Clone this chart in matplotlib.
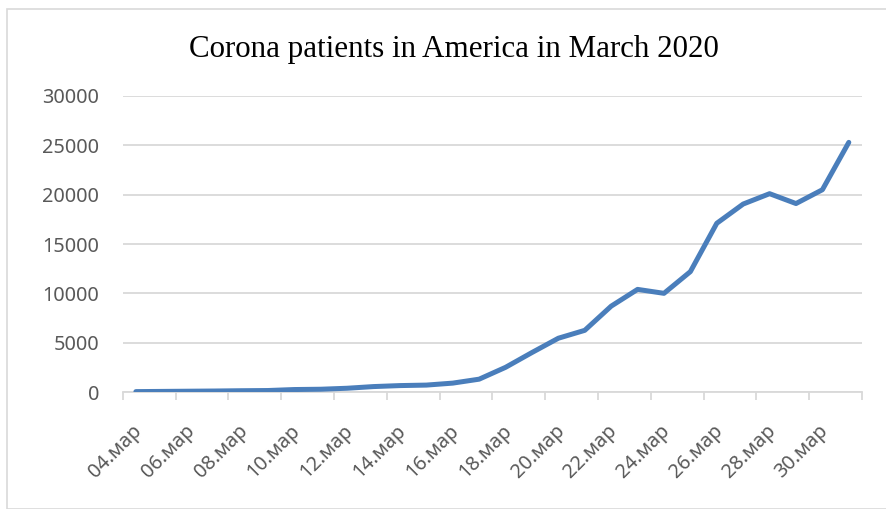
import matplotlib
matplotlib.use("Agg")
import matplotlib.pyplot as plt
from matplotlib.patches import Rectangle
from matplotlib.transforms import offset_copy

days = ["04.мар", "05.мар", "06.мар", "07.мар", "08.мар", "09.мар", "10.мар",
        "11.мар", "12.мар", "13.мар", "14.мар", "15.мар", "16.мар", "17.мар",
        "18.мар", "19.мар", "20.мар", "21.мар", "22.мар", "23.мар", "24.мар",
        "25.мар", "26.мар", "27.мар", "28.мар", "29.мар", "30.мар", "31.мар"]
patients = [40, 60, 80, 100, 130, 150, 250, 280, 380, 550, 650, 700, 900, 1300,
            2500, 4000, 5450, 6250, 8700, 10400, 10000, 12200, 17100, 19050,
            20100, 19100, 20500, 25300]
y_ticks = [0, 5000, 10000, 15000, 20000, 25000, 30000]
title = "Corona patients in America in March 2020"

W, H = 887, 509
fig = plt.figure(figsize=(W / 100, H / 100), dpi=100)
fig.patch.set_facecolor("white")

# chart border
fig.add_artist(Rectangle((7 / W, 0), (W + 20) / W, 1 - 9 / H, transform=fig.transFigure,
                         fill=False, edgecolor="#d9d9d9", linewidth=1.2))

x0, x1 = 122.7, 862.0
yb, yt = 392.0, 96.0
ax = fig.add_axes([x0 / W, 1 - yb / H, (x1 - x0) / W, (yb - yt) / H])

xs = list(range(len(days)))
ax.plot(xs, patients, color="#4a7ebb", linewidth=3.6, solid_capstyle="round",
        solid_joinstyle="round", zorder=3)

ax.set_xlim(-0.5, len(days) - 0.5)
ax.set_ylim(0, 30000)
ax.set_yticks(y_ticks)
ax.set_yticklabels([str(v) for v in y_ticks])
ax.grid(axis="y", color="#d9d9d9", linewidth=1.3)
ax.set_axisbelow(True)

for s in ["top", "right", "left"]:
    ax.spines[s].set_visible(False)
ax.spines["bottom"].set_color("#d9d9d9")
ax.spines["bottom"].set_linewidth(1.3)
ax.spines["bottom"].set_zorder(2)

tick_font = ["Noto Sans", "DejaVu Sans"]
ax.tick_params(axis="y", length=0, pad=17, labelsize=14.3, labelcolor="#595959")
for lab in ax.get_yticklabels():
    lab.set_fontfamily(tick_font)

# tick marks at category boundaries every 2 categories
ax.set_xticks([i - 0.5 for i in range(0, len(days) + 1, 2)])
ax.set_xticklabels([])
ax.tick_params(axis="x", length=6, width=1.3, color="#d9d9d9", direction="out")

# category labels every 2 categories
base = ax.get_xaxis_transform()
for i in range(0, len(days), 2):
    tr = offset_copy(base, fig=fig, x=3, y=-36, units="dots")
    ax.text(i, 0, days[i], transform=tr, rotation=45, rotation_mode="anchor",
            ha="right", va="center", fontsize=14.3, color="#595959",
            family=tick_font)

fig.text(454 / W, 1 - 56.5 / H, title, ha="center", va="baseline",
         fontsize=22.3, family=["Liberation Serif", "DejaVu Serif"], color="black")

fig.savefig("out.png", dpi=100)
